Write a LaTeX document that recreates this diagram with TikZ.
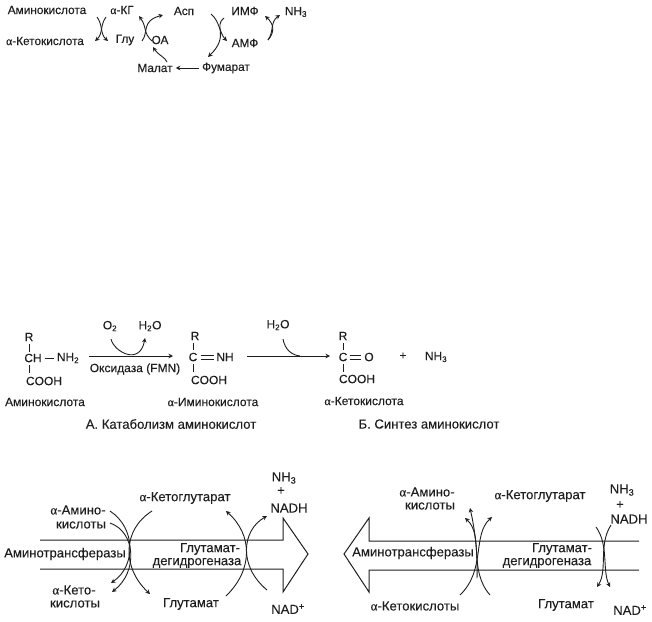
\documentclass[tikz,border=0pt]{standalone}
\usepackage{fontspec}
\setmainfont[FakeBold=0.15]{Liberation Sans}
\newfontfamily\alfont[FakeBold=0.15]{Liberation Serif}
\newcommand{\al}{{\alfont α}}
\newcommand{\sbs}[1]{\textsubscript{#1}}
\usetikzlibrary{arrows.meta}
\definecolor{ink}{HTML}{1E1E1E}
\tikzset{
  lab/.style={inner sep=0pt,font=\fontsize{11.8}{13}\selectfont,text=ink},
  labm/.style={inner sep=0pt,font=\fontsize{12}{14}\selectfont,text=ink},
  labb/.style={inner sep=0pt,font=\fontsize{13.1}{15}\selectfont,text=ink},
  bond/.style={draw=ink,line width=0.8pt},
  ln/.style={draw=ink,line width=0.9pt},
  arr/.style={draw=ink,line width=0.9pt,-{Stealth[length=4.5pt,width=4.5pt]}},
  band/.style={draw=ink,line width=1pt,line join=miter}
}
\begin{document}
\begin{tikzpicture}[x=1pt,y=-1pt]
\useasboundingbox (0,0) rectangle (652,621);
% ---- top scheme
\node[lab] (amino) at (47,10) {Аминокислота};
\node[lab] (kg) at (122,10) {\al-КГ};
\node[lab] (asp) at (184,11) {Асп};
\node[lab] (imf) at (245,11) {ИМФ};
\node[lab] (nh3t) at (296,12) {NH\sbs{3}};
\node[lab] (keto) at (45,41) {\al-Кетокислота};
\node[lab] (glu) at (125,40) {Глу};
\node[lab] (oa) at (160,40) {ОА};
\node[lab] (amf) at (245,43) {АМФ};
\node[lab] (malat) at (155,68) {Малат};
\node[lab] (fum) at (226,68) {Фумарат};
\coordinate (a1) at (97,17); \coordinate (a2) at (108,41);
\coordinate (b1) at (106,17); \coordinate (b2) at (95,41);
\draw[arr] (a1) .. controls (103,25) and (100,34) .. (a2);
\draw[arr] (b1) .. controls (100,25) and (103,34) .. (b2);
\coordinate (c1) at (152,41); \coordinate (c2) at (139,16);
\coordinate (d1) at (142,41); \coordinate (d2) at (163,15);
\draw[arr] (c1) .. controls (143,33) and (147,27) .. (c2);
\draw[arr] (d1) .. controls (149,32) and (141,21) .. (d2);
\coordinate (e1) at (211,14); \coordinate (e2) at (227,41);
\coordinate (f1) at (224,18); \coordinate (f2) at (208,57);
\draw[arr] (e1) .. controls (219,20) and (220,34) .. (e2);
\draw[arr] (f1) .. controls (213,26) and (230,36) .. (f2);
\coordinate (g1) at (268,40); \coordinate (g2) at (265,16); \coordinate (g3) at (280,15);
\draw[arr] (g1) .. controls (275,32) and (274,24) .. (g2);
\draw[arr] (g1) .. controls (274,32) and (270,22) .. (g3);
\coordinate (h1) at (167,62); \coordinate (h2) at (153,47);
\draw[arr] (h1) .. controls (165,57) and (158,55) .. (h2);
\draw[arr] ([xshift=-3pt]fum.west) -- ([xshift=3pt]malat.east);
% ---- middle scheme
\node[labm] (r1) at (29,337) {R};
\node[labm] (ch) at (33,358) {CH};
\node[labm] (nh2) at (68,358) {NH\sbs{2}};
\node[labm] (cooh1) at (44,381) {COOH};
\node[labm] (lam) at (45,402) {Аминокислота};
\coordinate (s1a) at (29,344); \coordinate (s1b) at (29,352);
\coordinate (s1c) at (29,365); \coordinate (s1d) at (29,373);
\draw[bond] (s1a) -- (s1b);
\draw[bond] ([xshift=3pt]ch.east) -- ([xshift=-3pt]nh2.west);
\draw[bond] (s1c) -- (s1d);
\node[labm] (o2) at (110,326) {O\sbs{2}};
\node[labm] (h2oa) at (150,326) {H\sbs{2}O};
\node[labm] (fmn) at (135,369) {Оксидаза (FMN)};
\node[labm] (r2) at (195,336) {R};
\node[labm] (c2n) at (193,357) {C};
\node[labm] (nh) at (225,357) {NH};
\node[labm] (cooh2) at (209,380) {COOH};
\node[labm] (lim) at (213,402) {\al-Иминокислота};
\node[labb] (cata) at (171,424) {А. Катаболизм аминокислот};
\coordinate (s2a) at (193,343); \coordinate (s2b) at (193,350);
\coordinate (s2c) at (193,364); \coordinate (s2d) at (193,372);
\draw[bond] (s2a) -- (s2b);
\draw[bond] (s2c) -- (s2d);
\draw[bond] ([xshift=3pt,yshift=-2pt]c2n.east) -- ([xshift=-2pt,yshift=-2pt]nh.west);
\draw[bond] ([xshift=3pt,yshift=2pt]c2n.east) -- ([xshift=-2pt,yshift=2pt]nh.west);
\coordinate (m1) at (89,356); \coordinate (m2) at (173,356);
\draw[arr] (m1) -- (m2);
\coordinate (m3) at (111,339); \coordinate (m4) at (145,338);
\draw[arr] (m3) .. controls (114,352) and (140,366) .. (m4);
\node[labm] (h2ob) at (278,325) {H\sbs{2}O};
\node[labm] (r3) at (343,336) {R};
\node[labm] (c3n) at (343,357) {C};
\node[labm] (o3) at (369,357) {O};
\node[labm] (cooh3) at (357,379) {COOH};
\node[labm] (lke) at (364,401) {\al-Кетокислота};
\node[labm] (plus) at (403,356) {+};
\node[labm] (nh3m) at (436,357) {NH\sbs{3}};
\node[labb] (syn) at (429,424) {Б. Синтез аминокислот};
\coordinate (m5) at (247,356); \coordinate (m6) at (330,356);
\draw[arr] (m5) -- (m6);
\coordinate (m7) at (283,339); \coordinate (m8) at (300,356);
\draw[ln] (m7) .. controls (285,350) and (292,355) .. (m8);
\coordinate (s3a) at (343,343); \coordinate (s3b) at (343,350);
\coordinate (s3c) at (343,364); \coordinate (s3d) at (343,372);
\draw[bond] (s3a) -- (s3b);
\draw[bond] (s3c) -- (s3d);
\draw[bond] ([xshift=2pt,yshift=-2pt]c3n.east) -- ([xshift=-3pt,yshift=-2pt]o3.west);
\draw[bond] ([xshift=2pt,yshift=2pt]c3n.east) -- ([xshift=-3pt,yshift=2pt]o3.west);
% ---- bottom left
\draw[band] (40,540) -- (283,540) -- (283,518) -- (308,554) -- (283,592) -- (283,569) -- (40,569);
\node[labb] (la) at (78,510) {\al-Амино-};
\node[labb] (lk) at (81,525) {кислоты};
\node[labb] (lat) at (65,554) {Аминотрансферазы};
\node[labb] (lke2) at (74,590) {\al-Кето-};
\node[labb] (lk2) at (75,604) {кислоты};
\node[labb] (lkg) at (185,498) {\al-Кетоглутарат};
\node[labb] (lg1) at (210,549) {Глутамат-};
\node[labb] (lg2) at (197,563) {дегидрогеназа};
\node[labb] (lg3) at (191,604) {Глутамат};
\node[labb] (lnh) at (284,478) {NH\sbs{3}};
\node[labb] (lp) at (281,491) {+};
\node[labb] (lnd) at (289,508) {NADH};
\node[labb] (lna) at (288,609) {NAD\textsuperscript{+}};
\coordinate (p1) at (110,511); \coordinate (p2) at (111,583);
\coordinate (p3) at (110,523); \coordinate (p4) at (112,592);
\coordinate (p5) at (152,511); \coordinate (p6) at (150,594);
\coordinate (p7) at (226,596); \coordinate (p8) at (226,511);
\coordinate (p9) at (267,590); \coordinate (p10) at (267,516);
\draw[arr] (p1) .. controls (136,528) and (136,566) .. (p2);
\draw[arr] (p3) .. controls (136,532) and (138,572) .. (p4);
\draw[arr] (p5) .. controls (122,530) and (122,568) .. (p6);
\draw[arr] (p7) .. controls (253,570) and (253,535) .. (p8);
\draw[arr] (p9) .. controls (238,566) and (242,530) .. (p10);
% ---- bottom right
\draw[band] (639,541) -- (369,541) -- (369,518) -- (344,554) -- (369,592) -- (369,570) -- (639,570);
\node[labb] (ra) at (427,492) {\al-Амино-};
\node[labb] (rk) at (430,506) {кислоты};
\node[labb] (rkg) at (540,496) {\al-Кетоглутарат};
\node[labb] (rnh) at (622,490) {NH\sbs{3}};
\node[labb] (rp) at (620,505) {+};
\node[labb] (rnd) at (629,519) {NADH};
\node[labb] (rat) at (413,553) {Аминотрансферазы};
\node[labb] (rg1) at (562,549) {Глутамат-};
\node[labb] (rg2) at (547,563) {дегидрогеназа};
\node[labb] (rke) at (415,606) {\al-Кетокислоты};
\node[labb] (rg3) at (566,605) {Глутамат};
\node[labb] (rna) at (630,610) {NAD\textsuperscript{+}};
\coordinate (q1) at (460,595); \coordinate (q2) at (492,517);
\coordinate (q3) at (490,595); \coordinate (q4) at (465,518);
\coordinate (q5) at (477,578); \coordinate (q6) at (470,508);
\coordinate (q7) at (596,527); \coordinate (q8) at (610,587);
\coordinate (q9) at (611,525); \coordinate (q10) at (597,587);
\draw[arr] (q1) .. controls (486,570) and (472,535) .. (q2);
\draw[arr] (q3) .. controls (468,570) and (484,535) .. (q4);
\draw[arr] (q5) .. controls (478,555) and (475,530) .. (q6);
\draw[arr] (q7) .. controls (609,545) and (602,570) .. (q8);
\draw[arr] (q9) .. controls (598,545) and (608,570) .. (q10);
\end{tikzpicture}
\end{document}
